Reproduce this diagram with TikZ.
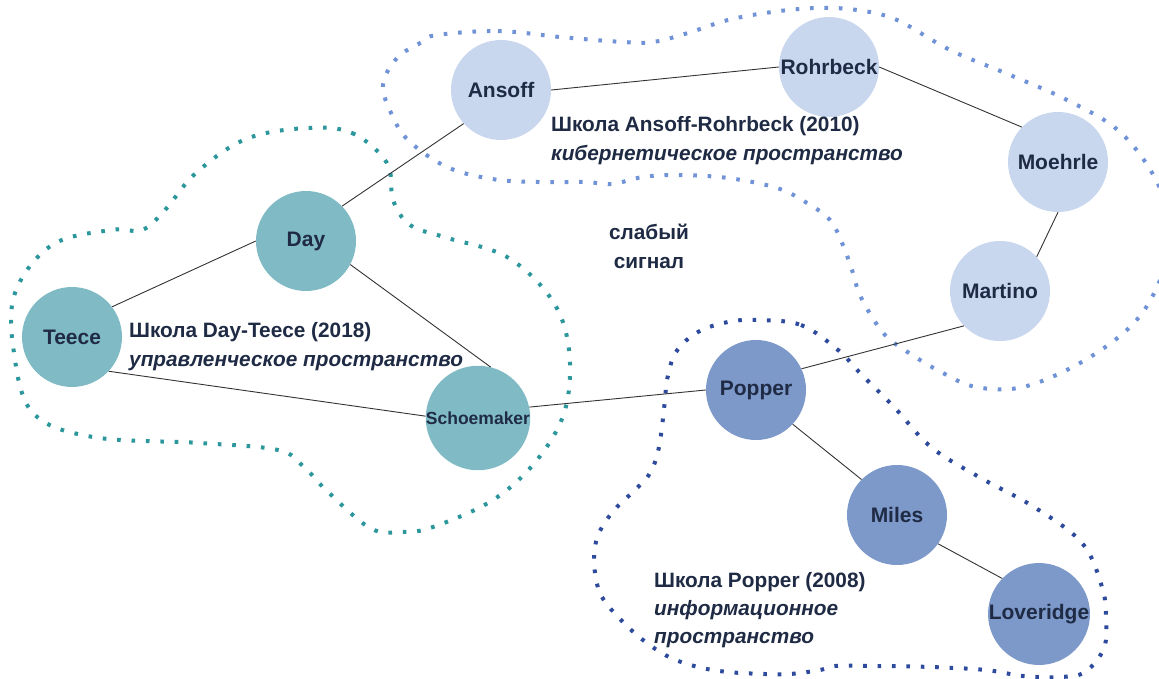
\documentclass[tikz,border=0pt]{standalone}
\usepackage{fontspec}
\setmainfont{Liberation Sans}
\definecolor{ink}{RGB}{31,43,68}
\definecolor{tealfill}{RGB}{128,187,197}
\definecolor{lightfill}{RGB}{201,215,238}
\definecolor{popfill}{RGB}{125,153,202}
\definecolor{tealdot}{RGB}{43,150,155}
\definecolor{lightdot}{RGB}{111,147,214}
\definecolor{darkdot}{RGB}{45,74,157}
\definecolor{edgecol}{RGB}{51,51,51}
\begin{document}
\begin{tikzpicture}[x=1pt,y=-1pt,
  person/.style={circle, minimum size=100pt, inner sep=0pt, text=ink,
    font=\bfseries\fontsize{21}{25}\selectfont},
  grpA/.style={person, fill=tealfill},
  grpB/.style={person, fill=lightfill},
  grpC/.style={person, fill=popfill},
  edge/.style={draw=edgecol, line width=0.9pt},
  blob/.style={line width=4pt, dash pattern=on 3.6pt off 10.8pt},
  lbl/.style={anchor=base west, inner sep=0pt, text=ink,
    font=\bfseries\fontsize{20.8}{25}\selectfont},
  lbli/.style={lbl, font=\bfseries\itshape\fontsize{20.8}{25}\selectfont}]
\useasboundingbox (0,0) rectangle (1159,679);
\fill[white] (0,0) rectangle (1159,679);

% dotted group outlines
\draw[blob, tealdot] plot[smooth cycle, tension=0.6] coordinates {
 (307,128) (352,133) (387,163) (393,200) (410,225) (444,237) (507,257)
 (552,300) (569,350) (565,410) (537,460) (493,500) (433,527) (402,532)
 (370,528) (326,490) (304,467) (278,450) (200,443) (93,437) (33,413)
 (14,353) (15,293) (52,245) (111,230) (142,230) (165,210) (196,173) (246,139)};

\draw[blob, lightdot] plot[smooth cycle, tension=0.6] coordinates {
 (437,35) (498,31) (560,37) (623,42) (653,42) (688,33) (728,20) (772,12)
 (817,8) (857,10) (897,20) (950,50) (1010,75) (1067,100) (1120,132)
 (1157,182) (1172,235) (1157,287) (1130,327) (1080,363) (1023,387)
 (976,387) (941,372) (909,353) (887,337) (872,317) (859,293) (852,270)
 (842,243) (830,220) (807,203) (777,188) (728,178) (678,175) (643,177)
 (612,184) (585,182) (538,182) (492,179) (447,167) (409,141) (392,115)
 (383,85) (397,58) (422,42)};

\draw[blob, darkdot] plot[smooth cycle, tension=0.6] coordinates {
 (757,320) (801,325) (838,350) (860,373) (894,407) (931,447) (979,477)
 (1034,507) (1082,543) (1102,587) (1106,617) (1104,648) (1085,672)
 (1060,677) (1023,676) (986,670) (931,667) (875,666) (835,666) (820,670)
 (790,674) (765,674) (728,672) (698,667) (669,657) (643,640) (621,620)
 (602,597) (595,573) (595,547) (602,527) (617,507) (635,490) (650,473)
 (659,447) (665,400) (667,380) (676,352) (698,332) (728,322)};

% nodes
\node[grpA] (teece) at (72,337) {Teece};
\node[grpA] (day) at (306,241) {Day};
\node[grpA, font=\bfseries\fontsize{17.5}{20}\selectfont] (schoe) at (478,418) {Schoemaker};
\node[grpB] (ansoff) at (501,90) {Ansoff};
\node[grpB] (rohr) at (829,67) {Rohrbeck};
\node[grpB] (moeh) at (1058,162) {Moehrle};
\node[grpB] (mart) at (1000,291) {Martino};
\node[grpC] (popper) at (756,390) {Popper};
\node[grpC] (miles) at (897,515) {Miles};
\node[grpC] (lover) at (1039,614) {Loveridge};

% connectors
\draw[edge] (teece.37) -- (day.180);
\draw[edge] (teece.-43) -- (schoe.178);
\draw[edge] (day.-28) -- (schoe.76);
\draw[edge] (day.44) -- (ansoff.222);
\draw[edge] (ansoff.0) -- (rohr.180);
\draw[edge] (rohr.0) -- (moeh.136);
\draw[edge] (moeh.270) -- (mart.43);
\draw[edge] (mart.224) -- (popper.25);
\draw[edge] (schoe.12) -- (popper.180);
\draw[edge] (popper.-43) -- (miles.135);
\draw[edge] (miles.-35) -- (lover.136);

% labels
\node[lbl] (l1a) at (129,337) {Школа Day-Teece (2018)};
\node[lbli] (l1b) at (129,366) {управленческое пространство};
\node[lbl] (l2a) at (551,132) {Школа Ansoff-Rohrbeck (2010)};
\node[lbli] (l2b) at (551,161) {кибернетическое пространство};
\node[lbl, anchor=base] (ws1) at (649,240) {слабый};
\node[lbl, anchor=base] (ws2) at (649,268) {сигнал};
\node[lbl] (l3a) at (654,587) {Школа Popper (2008)};
\node[lbli] (l3b) at (654,615) {информационное};
\node[lbli] (l3c) at (654,643) {пространство};
\end{tikzpicture}
\end{document}
